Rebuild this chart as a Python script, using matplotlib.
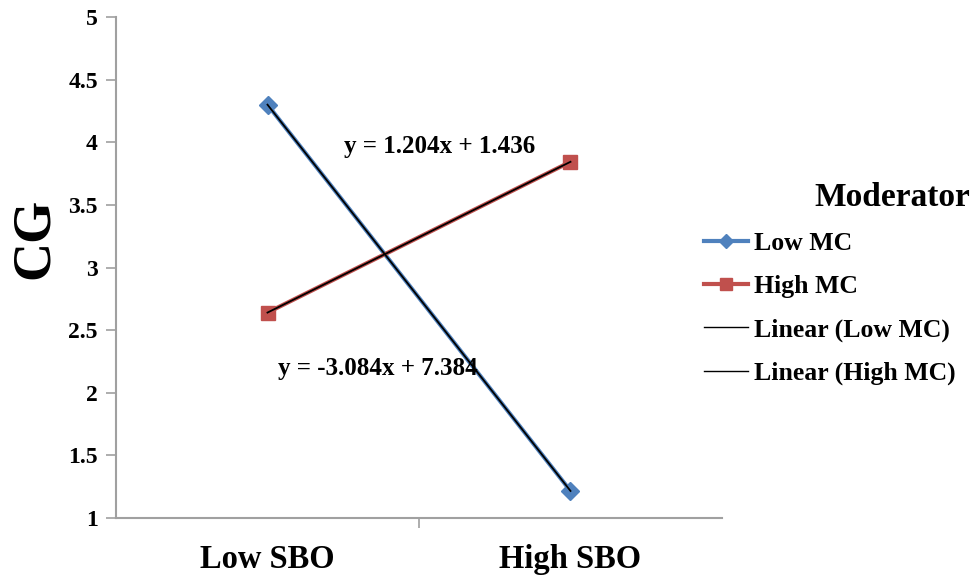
import numpy as np
import matplotlib
matplotlib.use("Agg")
import matplotlib.pyplot as plt
from matplotlib.lines import Line2D

plt.rcParams['font.family'] = ['Liberation Serif', 'DejaVu Serif']
plt.rcParams['font.weight'] = 'bold'

categories = ["Low SBO", "High SBO"]
series_names = ["Low MC", "High MC"]
low_mc = [4.300, 1.216]
high_mc = [2.640, 3.844]
y_ticks = [1, 1.5, 2, 2.5, 3, 3.5, 4, 4.5, 5]
y_tick_labels = ["1", "1.5", "2", "2.5", "3", "3.5", "4", "4.5", "5"]

blue = "#4F81BD"
red = "#C0504D"

W, H = 975, 581
fig = plt.figure(figsize=(9.75, 5.81), dpi=100)
ax = fig.add_axes([116/W, 1-518/H, (722-116)/W, (518-17)/H])

x = np.arange(1, len(categories)+1)

ax.plot(x, low_mc, color=blue, lw=3, marker='D', ms=9, mfc=blue, mec=blue, zorder=3)
ax.plot(x, high_mc, color=red, lw=3, marker='s', ms=10, mfc=red, mec=red, zorder=3)

fits = []
for vals in (low_mc, high_mc):
    m, b = np.polyfit(x, vals, 1)
    fits.append((m, b))
    ax.plot(x, m*x + b, color='black', lw=1.3, zorder=4)

def eq(m, b):
    return f"y = {m:.3f}x + {b:.3f}"

fig.text(440/W, 1-147/H, eq(*fits[1]), fontsize=18, fontweight='bold',
         ha='center', va='center')
fig.text(378/W, 1-368/H, eq(*fits[0]), fontsize=18, fontweight='bold',
         ha='center', va='center')

ax.set_xlim(0.5, 2.5)
ax.set_ylim(1, 5)
ax.set_yticks(y_ticks)
ax.set_yticklabels(y_tick_labels, fontsize=17, fontweight='bold')
ax.set_xticks([1.5])
ax.set_xticklabels([""])
for xi, c in zip(x, categories):
    ax.text(xi, -0.052, c, transform=ax.get_xaxis_transform(), ha='center', va='top',
            fontsize=23.5, fontweight='bold')

for s in ['top', 'right']:
    ax.spines[s].set_visible(False)
for s in ['left', 'bottom']:
    ax.spines[s].set_color('#A0A0A0')
    ax.spines[s].set_linewidth(1.5)
ax.tick_params(axis='both', direction='out', length=7, width=1.2, color='#A0A0A0', pad=6)

fig.text(35/W, 1-238/H, "CG", rotation=90, fontsize=39, fontweight='bold',
         ha='center', va='center')

handles = [
    Line2D([], [], color=blue, lw=3, marker='D', ms=7, mfc=blue, mec=blue),
    Line2D([], [], color=red, lw=3, marker='s', ms=8, mfc=red, mec=red),
    Line2D([], [], color='black', lw=1),
    Line2D([], [], color='black', lw=1),
]
labels = series_names + [f"Linear ({n})" for n in series_names]
fig.legend(handles, labels, loc='upper left', bbox_to_anchor=(704/W, 1-232/H),
           frameon=False, handlelength=1.7, handletextpad=0.25,
           labelspacing=0.78, borderpad=0, borderaxespad=0, numpoints=1,
           prop={'weight': 'bold', 'size': 18.5})
fig.text(892/W, 1-197/H, "Moderator", fontsize=24, fontweight='bold',
         ha='center', va='center')

fig.savefig("out.png", dpi=100)
